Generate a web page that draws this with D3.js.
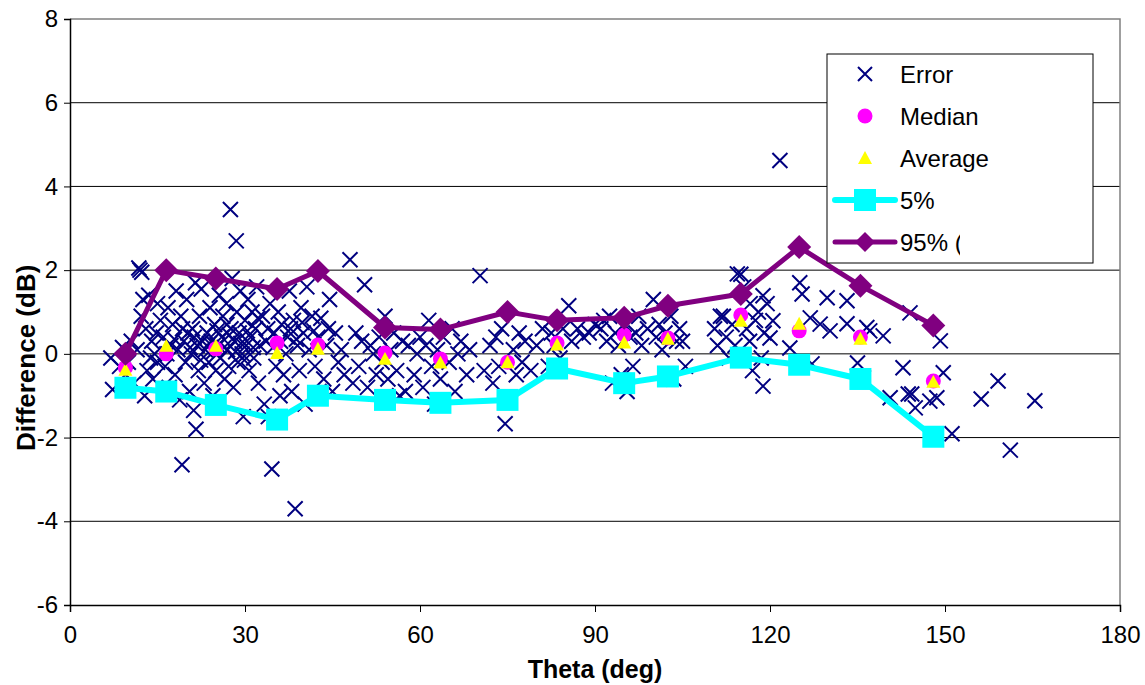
<!DOCTYPE html>
<html>
<head>
<meta charset="utf-8">
<script src="https://cdn.jsdelivr.net/npm/d3@7"></script>
<style>
  html, body { margin: 0; padding: 0; background: #fff; }
  svg { display: block; font-family: "Liberation Sans", Arial, sans-serif; }
</style>
</head>
<body>
<div id="vis-display"></div>
<script>
// Scatter of per-point error vs theta, plus per-bin median / average / 5% / 95% stats.

const X_TICKS = [0, 30, 60, 90, 120, 150, 180];
const Y_TICKS = [-6, -4, -2, 0, 2, 4, 6, 8];

// bin centres (deg) shared by the stats series
const BIN_THETA = [9.5, 16.5, 25, 35.5, 42.5, 54, 63.5, 75, 83.5, 95, 102.5, 115, 125, 135.5, 148];
const MEDIAN    = [-0.33, 0.0, 0.12, 0.26, 0.21, 0.02, -0.12, -0.2, 0.26, 0.45, 0.38, 0.93, 0.55, 0.4, -0.65];
const AVERAGE   = [-0.38, 0.19, 0.19, 0.02, 0.12, -0.12, -0.21, -0.2, 0.22, 0.27, 0.36, 0.79, 0.72, 0.36, -0.67];
const P5        = [-0.81, -0.9, -1.22, -1.57, -1.0, -1.1, -1.17, -1.1, -0.35, -0.7, -0.54, -0.09, -0.26, -0.6, -1.98];
const P95       = [0.0, 2.0, 1.8, 1.55, 1.98, 0.63, 0.58, 1.0, 0.8, 0.86, 1.15, 1.43, 2.55, 1.63, 0.68];

// individual errors [theta, dB]
const ERRORS = [
  [7,-0.1],[7.3,-0.85],[8.5,-0.3],[9,0.15],[9.5,-0.5],[10,-0.2],[10.5,0.3],[11,-0.7],[11.5,0.1],
  [11.8,2.05],[12,2.0],[12.3,1.95],[12.5,1.3],[12.8,-1.0],[13,0.6],[13.2,-0.4],[13.5,1.4],[14,0.3],
  [14.2,-0.6],[14.5,0.0],[15,1.2],[15,-0.2],[15.5,0.8],[12.2,0.9],[13.8,-0.1],[14.8,0.5],
  [16,0.4],[16.3,-0.3],[16.8,1.1],[17,-0.8],[17.3,0.2],[17.6,0.7],[18,-0.5],[18.2,1.5],[18.5,0.1],
  [18.8,-1.1],[19,0.9],[19.2,-2.65],[19.5,0.3],[19.8,-0.2],[20,1.3],[20.2,0.5],[20.5,-0.9],[20.8,0.0],
  [21,0.6],[21.2,-1.35],[21.5,1.7],[21.6,-1.8],[21.8,0.2],[22,-0.4],[22.2,0.9],[22.5,1.55],[22.7,0.3],
  [23,-0.7],[23.2,0.1],[16.6,0.0],[17.9,0.35],[19.3,0.6],[20.6,0.15],[21.3,0.4],[22.4,-0.15],
  [23.5,0.5],[23.8,-0.2],[24,1.1],[24.2,0.3],[24.5,-1.0],[24.8,0.7],[25,-0.4],[25.3,0.2],[25.6,1.4],
  [25.8,-0.1],[26,0.4],[26.2,0.9],[26.5,-0.6],[26.8,1.2],[27,0.1],[27.2,-0.3],[27.5,3.45],[27.6,0.6],
  [27.8,1.8],[28,-0.8],[28.2,0.3],[28.5,2.7],[28.6,1.0],[28.8,-0.2],[29,0.5],[29.2,1.5],[29.5,0.0],
  [29.7,-1.5],[30,0.8],[30.2,0.2],[30.5,1.3],[30.7,-0.4],[31,0.4],[31.2,1.0],[31.5,-0.1],[31.8,0.6],
  [32,1.6],[32.3,-0.7],[32.5,0.2],[23.9,0.25],[24.6,0.05],[25.2,0.55],[26.4,0.15],[27.3,0.45],
  [28.4,0.05],[29.3,0.25],[30.4,0.55],[31.4,0.15],[32.2,0.85],[26.9,0.7],[29.9,-0.15],
  [33,0.9],[33.3,-1.2],[33.6,0.3],[34,-1.5],[34.3,1.2],[34.6,-2.75],[35,0.5],[35.3,-0.3],[35.7,1.0],
  [36,-1.0],[36.3,0.7],[36.6,-0.5],[37,0.0],[37.3,0.4],[37.6,1.5],[38,-0.9],[38.3,0.8],[38.6,-3.7],
  [39,0.2],[39.3,-0.4],[39.6,1.1],[40,0.5],[40.3,-1.2],[40.6,1.6],[41,0.1],[34.8,0.15],[36.1,0.3],
  [37.8,0.6],[39.8,0.75],[38.8,0.35],[33.9,0.6],
  [41.5,0.9],[42,-0.3],[42.5,0.4],[43,0.85],[43.5,-0.6],[44,0.2],[44.5,1.3],[45,-0.9],[45.5,0.5],
  [46,-0.2],[46.5,0.1],[47,-0.5],[48,2.25],[48.5,-0.7],[49,0.5],[49.5,-0.3],[41.8,0.55],[44.3,0.6],
  [50,0.3],[50.5,1.65],[51,-0.8],[51.5,0.2],[52,0.0],[52.5,-0.5],[53,0.4],[53.5,-0.2],[54,0.9],
  [54.5,-0.6],[55,0.1],[55.5,0.5],[56,-0.4],[56.5,-1.0],[57,0.3],[57.5,-0.9],[58,0.2],
  [59,-0.5],[59.5,0.0],[60,0.4],[60.5,-0.8],[61,0.2],[61.5,0.8],[62,-0.3],[62.5,-1.2],[63,0.1],
  [63.5,-0.6],[64,0.4],[65,-0.2],[65.5,0.6],[66,-0.9],[66.5,0.0],[67,0.3],[68,-0.5],[68.5,0.1],
  [70.3,1.87],[71,-0.4],[72,0.2],[72.5,-0.7],[73,0.4],[73.5,-0.3],[74,0.6],[74.6,-1.67],[76,0.1],
  [76.5,-0.5],[77,0.5],[77.5,-0.2],[78,0.3],[79,-0.4],[80,0.2],[81,0.6],
  [82,-0.3],[82.5,0.5],[83,0.2],[84,-0.1],[84.5,0.6],[85.5,1.15],[86,0.3],[87,0.6],[88,0.4],
  [89,0.5],[90,0.7],
  [91,0.6],[91.5,0.8],[92,0.3],[92.5,0.9],[93,-0.7],[93.5,0.5],[94,0.2],[94.5,-0.5],[95,0.7],
  [95.5,-0.9],[96,0.4],[96.5,-0.3],[97,0.5],[97.5,0.9],[98,0.2],[99,0.6],
  [100,1.3],[100.5,0.4],[101,0.7],[101.5,0.1],[102,0.5],[102.5,-0.5],[103,0.9],[103.5,-0.6],[104,0.3],
  [104.5,0.6],[105,0.3],[105.5,-0.3],
  [110.5,0.6],[111,0.2],[111.5,0.9],
  [112,0.9],[112.5,0.4],[113,-0.1],[113.5,0.7],[114,0.2],[114.4,1.91],[115,1.9],[115.5,1.6],[116,0.6],
  [116.5,0.3],[116.6,1.2],[117,-0.4],[117.5,0.8],[118,1.0],[118.5,-0.1],[118.8,1.39],[118.8,-0.77],
  [119,0.5],[119.5,1.2],[120,0.38],[120.5,0.79],[121.7,4.62],
  [123.4,0.14],[125.1,1.7],[125.5,1.43],[126.9,0.86],[127.2,-0.24],[128.6,0.71],[129.8,1.34],
  [130.3,0.55],[133.2,1.27],[133.2,0.72],[135,-0.22],[136,-0.57],[136.6,0.63],[137.1,0.55],
  [139.4,0.43],[140.6,-1.05],[142.8,-0.33],[143.7,-0.96],[144,0.98],[144.3,-0.96],[144.9,-1.29],
  [147.4,-1.13],[148.6,-1.05],[149.2,0.31],[149.7,-0.45],[151.2,-1.91],
  [156.2,-1.08],[159.1,-0.65],[161.2,-2.3],[165.4,-1.12]
];

const LEGEND = ["Error", "Median", "Average", "5%", "95% ("];

const W = 1145, H = 685;
const plot = { left: 70, right: 1120, top: 19, bottom: 605 };

const x = d3.scaleLinear().domain([0, 180]).range([plot.left, plot.right]);
const y = d3.scaleLinear().domain([-6, 8]).range([plot.bottom, plot.top]);

const svg = d3.select("#vis-display").append("svg")
  .attr("width", W).attr("height", H);

// gridlines
svg.append("g")
  .selectAll("line")
  .data(Y_TICKS.filter(d => d > -6 && d < 8))
  .join("line")
    .attr("x1", plot.left).attr("x2", plot.right)
    .attr("y1", d => y(d)).attr("y2", d => y(d))
    .attr("stroke", "#000").attr("stroke-width", 1);

// plot frame (top/right grey)
svg.append("path")
  .attr("d", `M${plot.left},${plot.top}H${plot.right}V${plot.bottom}`)
  .attr("fill", "none").attr("stroke", "#808080").attr("stroke-width", 1.5);

// axes
const yAxis = svg.append("g")
  .attr("transform", `translate(${plot.left},0)`)
  .call(d3.axisLeft(y).tickValues(Y_TICKS).tickSize(6).tickPadding(6).tickFormat(d => String(d)));
const xAxis = svg.append("g")
  .attr("transform", `translate(0,${plot.bottom})`)
  .call(d3.axisBottom(x).tickValues(X_TICKS).tickSize(7).tickPadding(14));

[yAxis, xAxis].forEach(ax => {
  ax.select(".domain").attr("stroke", "#000").attr("stroke-width", 1.5);
  ax.selectAll(".tick line").attr("stroke", "#000").attr("stroke-width", 1);
  ax.selectAll("text")
    .style("font-size", "24px")
    .style("font-family", "'Liberation Sans', Arial, sans-serif")
    .attr("fill", "#000");
});

svg.append("text")
  .attr("x", (plot.left + plot.right) / 2).attr("y", 678)
  .attr("text-anchor", "middle")
  .style("font-weight", "bold").style("font-size", "25px")
  .text("Theta (deg)");

svg.append("text")
  .attr("transform", `translate(35,${y(0) + 4}) rotate(-90)`)
  .attr("text-anchor", "middle")
  .style("font-weight", "bold").style("font-size", "26px")
  .text("Difference (dB)");

// ── marker shapes ─────────────────────────────────────────────────────────
const crossPath   = s => `M${-s},${-s}L${s},${s}M${-s},${s}L${s},${-s}`;
const triPath     = s => `M0,${-s}L${s},${s * 0.85}L${-s},${s * 0.85}Z`;
const diamondPath = s => `M0,${-s}L${s},0L0,${s}L${-s},0Z`;

const STYLE = {
  error:   { color: "#000080" },
  median:  { color: "#FF00FF" },
  average: { color: "#FFFF00" },
  p5:      { color: "#00FFFF" },
  p95:     { color: "#800080" },
};

const stats = BIN_THETA.map((t, i) => ({ t, med: MEDIAN[i], avg: AVERAGE[i], p5: P5[i], p95: P95[i] }));

// errors
svg.append("g")
  .selectAll("path")
  .data(ERRORS)
  .join("path")
    .attr("transform", d => `translate(${x(d[0])},${y(d[1])})`)
    .attr("d", crossPath(7.5))
    .attr("stroke", STYLE.error.color).attr("stroke-width", 2).attr("fill", "none");

// median
svg.append("g")
  .selectAll("circle")
  .data(stats)
  .join("circle")
    .attr("cx", d => x(d.t)).attr("cy", d => y(d.med)).attr("r", 7.5)
    .attr("fill", STYLE.median.color);

// average
svg.append("g")
  .selectAll("path")
  .data(stats)
  .join("path")
    .attr("transform", d => `translate(${x(d.t)},${y(d.avg)})`)
    .attr("d", triPath(7))
    .attr("fill", STYLE.average.color);

// 5%
svg.append("path")
  .datum(stats)
  .attr("d", d3.line().x(d => x(d.t)).y(d => y(d.p5)))
  .attr("fill", "none").attr("stroke", STYLE.p5.color).attr("stroke-width", 6)
  .attr("stroke-linejoin", "round");
svg.append("g")
  .selectAll("rect")
  .data(stats)
  .join("rect")
    .attr("x", d => x(d.t) - 11).attr("y", d => y(d.p5) - 11)
    .attr("width", 22).attr("height", 22)
    .attr("fill", STYLE.p5.color);

// 95%
svg.append("path")
  .datum(stats)
  .attr("d", d3.line().x(d => x(d.t)).y(d => y(d.p95)))
  .attr("fill", "none").attr("stroke", STYLE.p95.color).attr("stroke-width", 5)
  .attr("stroke-linejoin", "round");
svg.append("g")
  .selectAll("path")
  .data(stats)
  .join("path")
    .attr("transform", d => `translate(${x(d.t)},${y(d.p95)})`)
    .attr("d", diamondPath(12))
    .attr("fill", STYLE.p95.color);

// ── legend ────────────────────────────────────────────────────────────────
const lg = svg.append("g").attr("transform", "translate(827,54)");
lg.append("rect")
  .attr("width", 266).attr("height", 209)
  .attr("fill", "#fff").attr("stroke", "#000").attr("stroke-width", 1);

// the last label is cut short in the original
svg.append("clipPath").attr("id", "lgclip")
  .append("rect").attr("x", 0).attr("y", 0).attr("width", 133).attr("height", 209);

LEGEND.forEach((label, i) => {
  const cy = 20 + i * 42;
  const g = lg.append("g").attr("transform", `translate(38,${cy})`);
  if (i === 0) g.append("path").attr("d", crossPath(7)).attr("stroke", STYLE.error.color).attr("stroke-width", 2);
  if (i === 1) g.append("circle").attr("r", 7.5).attr("fill", STYLE.median.color);
  if (i === 2) g.append("path").attr("d", triPath(7)).attr("fill", STYLE.average.color);
  if (i === 3) {
    g.append("line").attr("x1", -30).attr("x2", 30).attr("stroke", STYLE.p5.color)
      .attr("stroke-width", 6).attr("stroke-linecap", "round");
    g.append("rect").attr("x", -11).attr("y", -11).attr("width", 22).attr("height", 22).attr("fill", STYLE.p5.color);
  }
  if (i === 4) {
    g.append("line").attr("x1", -30).attr("x2", 30).attr("stroke", STYLE.p95.color)
      .attr("stroke-width", 5).attr("stroke-linecap", "round");
    g.append("path").attr("d", diamondPath(10)).attr("fill", STYLE.p95.color);
  }
  lg.append("text")
    .attr("x", 73).attr("y", cy + 9)
    .attr("clip-path", i === LEGEND.length - 1 ? "url(#lgclip)" : null)
    .style("font-size", "24px")
    .text(label);
});
</script>
</body>
</html>
